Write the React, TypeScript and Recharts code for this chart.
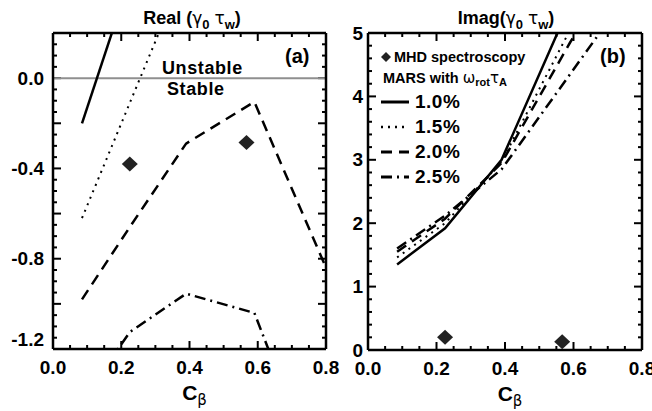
import {
  ComposedChart,
  Line,
  Scatter,
  XAxis,
  YAxis,
  ReferenceLine,
  Label,
  Legend,
} from 'recharts'

// MARS runs, sampled at these C_beta values
const cbeta = [0.085, 0.225, 0.39, 0.59, 0.8]

// Real(gamma0 tau_w) for each omega_rot tau_A
const real10 = [-0.2, 0.44, null, null, null]
const real15 = [-0.62, -0.11, 0.49, null, null]
const real20 = [-0.98, -0.66, -0.29, -0.105, -0.84]
const real25 = [-1.43, -1.125, -0.955, -1.04, -1.86]

// Imag(gamma0 tau_w)
const imag10 = [1.35, 1.92, 3.0, 5.45, null]
const imag15 = [1.46, 2.0, 2.97, 5.05, null]
const imag20 = [1.55, 2.07, 2.95, 4.85, 6.7]
const imag25 = [1.6, 2.12, 2.85, 4.35, 5.93]

// MHD spectroscopy points
const mhdCbeta = [0.225, 0.567]
const mhdReal = [-0.38, -0.285]
const mhdImag = [0.2, 0.13]

const rotLabels = ['1.0%', '1.5%', '2.0%', '2.5%']
const xTickLabels = [0, 0.2, 0.4, 0.6, 0.8]
const realTickLabels = [0, -0.4, -0.8, -1.2]
const imagTickLabels = [0, 1, 2, 3, 4, 5]

const seriesKeys = ['p10', 'p15', 'p20', 'p25']
const lineStyles = [
  { dash: undefined, width: 2.5 },
  { dash: '2 5', width: 2 },
  { dash: '11 7', width: 2.5 },
  { dash: '11 5 2 5', width: 2.5 },
]

const FONT = '"Liberation Sans", Arial, Helvetica, sans-serif'
const GREEK = '"DejaVu Sans", sans-serif'

const toRows = (cols: (number | null)[][]) =>
  cbeta.map((c, i) => {
    const row: Record<string, number | null> = { c }
    seriesKeys.forEach((k, j) => (row[k] = cols[j][i]))
    return row
  })

const realRows = toRows([real10, real15, real20, real25])
const imagRows = toRows([imag10, imag15, imag20, imag25])
const mhdRealRows = mhdCbeta.map((c, i) => ({ c, v: mhdReal[i] }))
const mhdImagRows = mhdCbeta.map((c, i) => ({ c, v: mhdImag[i] }))

const range = (a: number, b: number, s: number) => {
  const out: number[] = []
  const n = Math.round((b - a) / s)
  for (let i = 0; i <= n; i++) out.push(Math.round((a + i * s) * 1000) / 1000)
  return out
}
const xTicks = range(0, 0.8, 0.05)
const realTicks = range(-1.2, 0.2, 0.05)
const imagTicks = range(0, 5, 0.2)

const near = (a: number, b: number) => Math.abs(a - b) < 1e-6
const isMult = (v: number, s: number) => near(v / s, Math.round(v / s))

type Seg = [{ x: number; y: number }, { x: number; y: number }]

// IDL-style inward tick marks on all four sides of the box, as short
// reference segments. Lengths are given per data unit (8px major, 4px minor).
function frameSegments(
  xd: [number, number],
  yd: [number, number],
  yTicks: number[],
  xMajor: number,
  yMajor: number,
  pxPerX: number,
  pxPerY: number,
) {
  const segs: Seg[] = []
  xTicks.forEach((t) => {
    const l = (isMult(t, xMajor) ? 8 : 4) / pxPerY
    segs.push([{ x: t, y: yd[0] }, { x: t, y: yd[0] + l }])
    segs.push([{ x: t, y: yd[1] }, { x: t, y: yd[1] - l }])
  })
  yTicks.forEach((t) => {
    const l = (isMult(t, yMajor) ? 8 : 4) / pxPerX
    segs.push([{ x: xd[0], y: t }, { x: xd[0] + l, y: t }])
    segs.push([{ x: xd[1], y: t }, { x: xd[1] - l, y: t }])
  })
  return segs
}
const realFrame = frameSegments([0, 0.8], [-1.2, 0.2], realTicks, 0.2, 0.2, 273 / 0.8, 316 / 1.4)
const imagFrame = frameSegments([0, 0.8], [0, 5], imagTicks, 0.2, 1, 274 / 0.8, 317 / 5)

type Side = 'bottom' | 'left'

function makeTickLabel(side: Side, labels: number[], fmt: (v: number) => string, gap = 8, shiftMin?: number) {
  return (props: any) => {
    const x = Number(props.x)
    const y = Number(props.y)
    const v = Number(props.payload.value)
    if (!labels.some((l) => near(l, v))) return <g />
    if (side === 'bottom') {
      return (
        <text x={x} y={y + 25} textAnchor="middle" fontFamily={FONT} fontWeight={700} fontSize={19} fill="#000">
          {fmt(v)}
        </text>
      )
    }
    const shift = shiftMin !== undefined && near(v, shiftMin) ? -10 : 0
    return (
      <text x={x - gap} y={y + 6.5 + shift} textAnchor="end" fontFamily={FONT} fontWeight={700} fontSize={19} fill="#000">
        {fmt(v)}
      </text>
    )
  }
}

const xLabelTick = makeTickLabel('bottom', xTickLabels, (v) => v.toFixed(1))
const realLabelTick = makeTickLabel('left', realTickLabels, (v) => v.toFixed(1), 9, -1.2)
const imagLabelTick = makeTickLabel('left', imagTickLabels, (v) => v.toFixed(0), 5)

const axisStyle = { stroke: '#000', strokeWidth: 2.5 }

const Diamond = (props: any) => {
  const { cx, cy } = props
  if (cx == null || cy == null) return null
  return (
    <polygon
      points={`${cx - 8},${cy} ${cx},${cy - 7.5} ${cx + 8},${cy} ${cx},${cy + 7.5}`}
      fill="#222"
    />
  )
}

const cbetaLabel = (props: any) => {
  const vb = props.viewBox
  return (
    <text x={vb.x + vb.width / 2 + 5} y={vb.y + 51} textAnchor="middle" fontFamily={FONT} fontWeight={700} fontSize={21} fill="#000">
      C
      <tspan fontFamily={GREEK} fontWeight={400} fontSize={15} dy={5}>
        β
      </tspan>
    </text>
  )
}

const stabilityLabel = (props: any) => {
  const vb = props.viewBox
  const style = { fontFamily: FONT, fontWeight: 700, fontSize: 18, letterSpacing: 0.6, fill: '#000' }
  return (
    <g>
      <text x={vb.x + 109} y={vb.y - 4} {...style}>
        Unstable
      </text>
      <text x={vb.x + 114} y={vb.y + 17} {...style}>
        Stable
      </text>
    </g>
  )
}

function Sub({ children }: { children: string }) {
  return (
    <span style={{ fontSize: 13, position: 'relative', top: 5, fontWeight: 700 }}>{children}</span>
  )
}

function G({ children }: { children: string }) {
  return <span style={{ fontFamily: GREEK, fontWeight: 400, fontSize: 17 }}>{children}</span>
}

function RightLegend() {
  const row = { display: 'flex', alignItems: 'center' } as const
  return (
    <div style={{ fontFamily: FONT, fontWeight: 700, color: '#000', lineHeight: 1 }}>
      <div style={{ ...row, height: 20 }}>
        <svg width={10} height={10}>
          <polygon points="5,0 10,5 5,10 0,5" fill="#222" />
        </svg>
        <span style={{ fontSize: 14.5, marginLeft: 3 }}>MHD spectroscopy</span>
      </div>
      <div style={{ ...row, height: 22, marginLeft: 2, fontSize: 14.5 }}>
        <span>MARS with&nbsp;</span>
        <span style={{ fontFamily: GREEK, fontWeight: 400, fontSize: 15 }}>ω</span>
        <span style={{ fontSize: 11, position: 'relative', top: 4 }}>rot</span>
        <span style={{ fontFamily: GREEK, fontWeight: 400, fontSize: 15 }}>τ</span>
        <span style={{ fontSize: 11, position: 'relative', top: 4 }}>A</span>
      </div>
      {rotLabels.map((lab, i) => (
        <div key={lab} style={{ ...row, height: 25 }}>
          <svg width={28} height={6}>
            <line
              x1={0}
              y1={3}
              x2={28}
              y2={3}
              stroke="#000"
              strokeWidth={lineStyles[i].width + 0.5}
              strokeDasharray={lineStyles[i].dash}
            />
          </svg>
          <span style={{ fontSize: 19, marginLeft: 6, letterSpacing: 0.5 }}>{lab}</span>
        </div>
      ))}
    </div>
  )
}

const titleStyle = {
  position: 'absolute',
  top: 9,
  width: 220,
  textAlign: 'center',
  fontFamily: FONT,
  fontWeight: 700,
  fontSize: 18,
  lineHeight: '18px',
  whiteSpace: 'nowrap',
} as const

const panelTag = {
  position: 'absolute',
  top: 46,
  fontFamily: FONT,
  fontWeight: 700,
  fontSize: 20,
  lineHeight: '20px',
} as const

const axisCommon = {
  type: 'number' as const,
  allowDataOverflow: true,
  interval: 0 as const,
  tickSize: 0,
  tickMargin: 0,
  tickLine: false,
  axisLine: axisStyle,
}

export default function App() {
  return (
    <div style={{ position: 'relative', width: 652, height: 411, overflow: 'hidden', background: '#fff' }}>
      <style>{'body{margin:0}'}</style>
      <div style={{ position: 'absolute', left: 0, top: 0 }}>
        <ComposedChart width={345} height={411} data={realRows} margin={{ top: 32, right: 18, bottom: 0, left: 0 }}>
          <XAxis {...axisCommon} xAxisId="x" dataKey="c" domain={[0, 0.8]} ticks={xTicks} tick={xLabelTick} height={62}>
            <Label content={cbetaLabel} />
          </XAxis>
          <XAxis {...axisCommon} xAxisId="xt" orientation="top" dataKey="c" domain={[0, 0.8]} ticks={xTickLabels} tick={false} height={1} />
          <YAxis {...axisCommon} yAxisId="y" domain={[-1.2, 0.2]} ticks={realTicks} tick={realLabelTick} width={53} />
          <YAxis {...axisCommon} yAxisId="yr" orientation="right" domain={[-1.2, 0.2]} ticks={realTickLabels} tick={false} width={1} />
          {realFrame.map((seg, i) => (
            <ReferenceLine key={`f${i}`} xAxisId="x" yAxisId="y" segment={seg} stroke="#000" strokeWidth={2} ifOverflow="visible" />
          ))}
          <ReferenceLine xAxisId="x" yAxisId="y" y={0} stroke="#8f8f8f" strokeWidth={2}>
            <Label content={stabilityLabel} />
          </ReferenceLine>
          {seriesKeys.map((k, i) => (
            <Line
              key={k}
              xAxisId="x"
              yAxisId="y"
              dataKey={k}
              stroke="#000"
              strokeWidth={lineStyles[i].width}
              strokeDasharray={lineStyles[i].dash}
              dot={false}
              activeDot={false}
              type="linear"
              isAnimationActive={false}
            />
          ))}
          <Scatter xAxisId="x" yAxisId="y" data={mhdRealRows} dataKey="v" shape={Diamond} isAnimationActive={false} />
        </ComposedChart>
      </div>
      <div style={{ position: 'absolute', left: 330, top: 0 }}>
        <ComposedChart width={322} height={411} data={imagRows} margin={{ top: 32, right: 9, bottom: 0, left: 0 }}>
          <XAxis {...axisCommon} xAxisId="x" dataKey="c" domain={[0, 0.8]} ticks={xTicks} tick={xLabelTick} height={61}>
            <Label content={cbetaLabel} />
          </XAxis>
          <XAxis {...axisCommon} xAxisId="xt" orientation="top" dataKey="c" domain={[0, 0.8]} ticks={xTickLabels} tick={false} height={1} />
          <YAxis {...axisCommon} yAxisId="y" domain={[0, 5]} ticks={imagTicks} tick={imagLabelTick} width={38} />
          <YAxis {...axisCommon} yAxisId="yr" orientation="right" domain={[0, 5]} ticks={imagTickLabels} tick={false} width={1} />
          {imagFrame.map((seg, i) => (
            <ReferenceLine key={`f${i}`} xAxisId="x" yAxisId="y" segment={seg} stroke="#000" strokeWidth={2} ifOverflow="visible" />
          ))}
          {seriesKeys.map((k, i) => (
            <Line
              key={k}
              xAxisId="x"
              yAxisId="y"
              dataKey={k}
              stroke="#000"
              strokeWidth={lineStyles[i].width}
              strokeDasharray={lineStyles[i].dash}
              dot={false}
              activeDot={false}
              type="linear"
              isAnimationActive={false}
            />
          ))}
          <Scatter xAxisId="x" yAxisId="y" data={mhdImagRows} dataKey="v" shape={Diamond} isAnimationActive={false} />
          <Legend
            layout="vertical"
            align="center"
            verticalAlign="middle"
            wrapperStyle={{ left: 51, top: 47, width: 180, height: 145 }}
            content={() => <RightLegend />}
          />
        </ComposedChart>
      </div>
      <div style={{ ...titleStyle, left: 82 }}>
        Real (<G>γ</G>
        <Sub>0</Sub> <G>τ</G>
        <Sub>w</Sub>)
      </div>
      <div style={{ ...titleStyle, left: 396 }}>
        Imag(<G>γ</G>
        <Sub>0</Sub> <G>τ</G>
        <Sub>w</Sub>)
      </div>
      <div style={{ ...panelTag, left: 285 }}>(a)</div>
      <div style={{ ...panelTag, left: 600 }}>(b)</div>
    </div>
  )
}
